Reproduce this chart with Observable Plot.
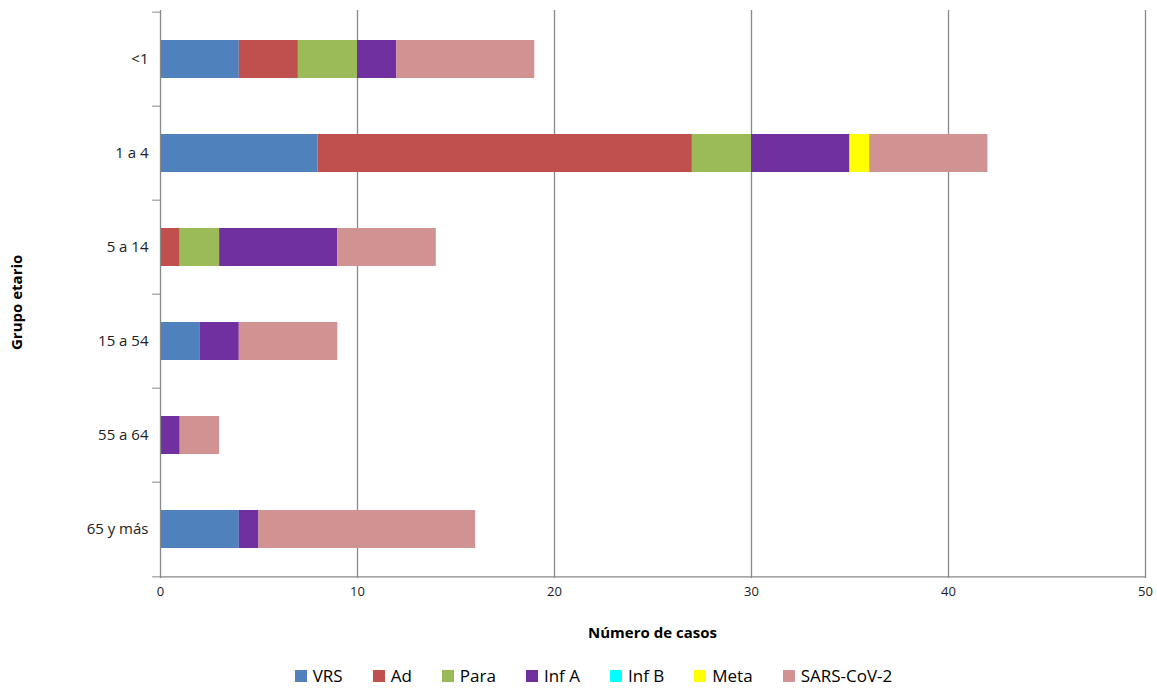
<!DOCTYPE html>
<html><head><meta charset="utf-8">
<script src="https://cdn.jsdelivr.net/npm/d3@7"></script>
<script src="https://cdn.jsdelivr.net/npm/@observablehq/plot@0.6"></script>
<style>
body{margin:0;background:#fff;font-family:"Open Sans",sans-serif;}
#xt{text-align:center;font-weight:bold;font-size:15px;margin-left:160px;width:985px;margin-top:22px;}
#leg{display:flex;justify-content:center;gap:30px;font-size:17px;margin-top:22px;margin-left:30px}
#leg span i{display:inline-block;width:12px;height:12px;margin-right:6px}
#yt{position:absolute;left:6px;top:290px;transform:rotate(-90deg);transform-origin:left top;font-weight:bold;font-size:15px;white-space:nowrap;translate:0 60px}
</style></head><body>
<div id="yt">Grupo etario</div>
<div id="chart"></div>
<div id="xt">Número de casos</div>
<div id="leg"></div>
<script>
const grupos = ['<1','1 a 4','5 a 14','15 a 54','55 a 64','65 y más']
const series = ['VRS','Ad','Para','Inf A','Inf B','Meta','SARS-CoV-2']
const colores = ['#4f81bd','#c0504d','#9bbb59','#7030a0','#00ffff','#ffff00','#d19392']
const VRS  = [4, 8, 0, 2, 0, 4]
const Ad   = [3, 19, 1, 0, 0, 0]
const Para = [3, 3, 2, 0, 0, 0]
const InfA = [2, 5, 6, 2, 1, 1]
const InfB = [0, 0, 0, 0, 0, 0]
const Meta = [0, 1, 0, 0, 0, 0]
const SARS = [7, 6, 5, 5, 2, 11]
const valores = [VRS, Ad, Para, InfA, InfB, Meta, SARS]

const data = []
series.forEach((s, i) => grupos.forEach((g, j) => data.push({grupo: g, serie: s, n: valores[i][j]})))

const H = 600, mt = 10, mb = 22
const band = (H - mt - mb) / grupos.length

const chart = Plot.plot({
  width: 1157, height: H,
  marginLeft: 160, marginRight: 12, marginTop: mt, marginBottom: mb,
  style: {fontFamily: '"Open Sans",sans-serif', fontSize: '13px', color: '#222'},
  x: {domain: [0, 50], label: null},
  y: {domain: grupos, paddingInner: 0.6, paddingOuter: 0.3, label: null},
  color: {domain: series, range: colores},
  marks: [
    Plot.ruleX([10,20,30,40,50], {stroke: '#888', strokeWidth: 1.3}),
    Plot.barX(data, Plot.stackX({y: 'grupo', x: 'n', fill: 'serie', order: series})),
    Plot.ruleX([0], {stroke: '#888', strokeWidth: 1.3}),
    Plot.ruleY(grupos, {y: d => d, x1: -0.4, x2: 0, dy: -band / 2, stroke: '#888'}),
    Plot.ruleY([grupos[grupos.length-1]], {y: d => d, x1: -0.4, x2: 0, dy: band / 2, stroke: '#888'}),
    Plot.ruleY([grupos[grupos.length-1]], {y: d => d, x1: 0, x2: 50, dy: band / 2, stroke: '#888', strokeWidth: 1.3}),
    Plot.axisY({tickSize: 0, tickPadding: 12, fontSize: 15}),
    Plot.axisX({tickSize: 0, tickPadding: 8, ticks: [0,10,20,30,40,50]})
  ]
})
d3.select('#chart').append(() => chart)

const leg = d3.select('#leg')
series.forEach((s, i) => leg.append('span').html(`<i style="background:${colores[i]}"></i>${s}`))
</script>
</body></html>
